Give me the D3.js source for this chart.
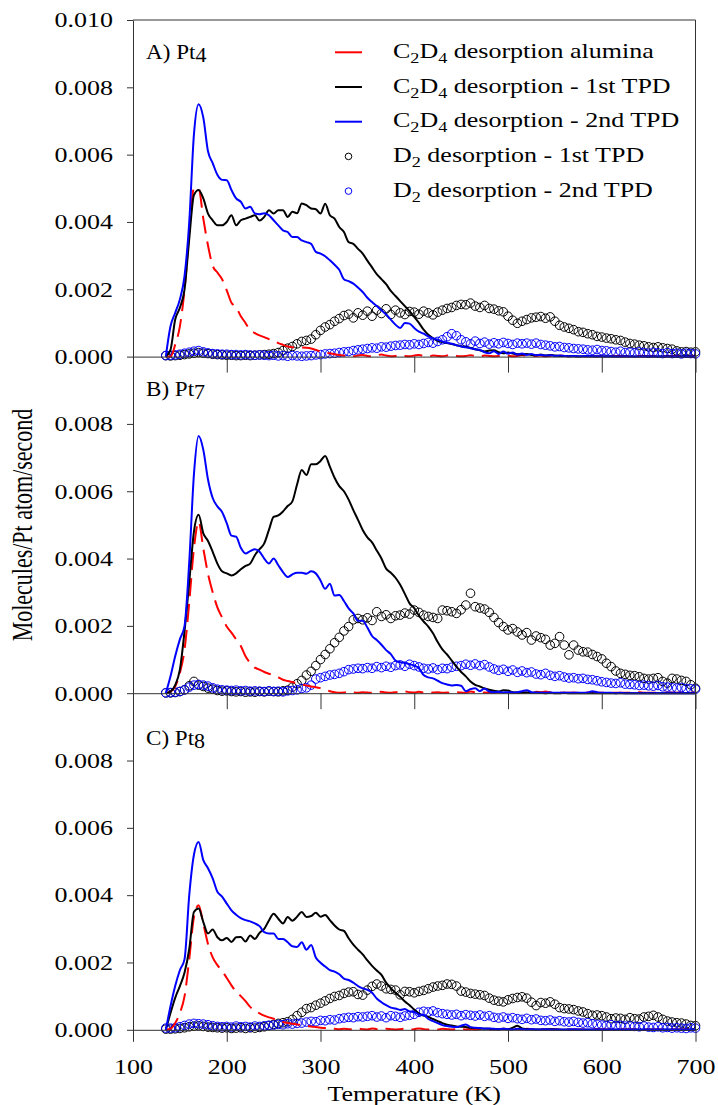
<!DOCTYPE html>
<html>
<head>
<meta charset="utf-8">
<script src="https://cdn.jsdelivr.net/npm/d3@7"></script>
<style>
  body { margin: 0; background: #fff; }
  svg { display: block; font-family: "Liberation Serif", "Times New Roman", serif; }
</style>
</head>
<body>
<svg id="chart" width="718" height="1105"></svg>
<script>
// Temperature grid (K), one reading every 5 K
const temps = [
  135,140,145,150,155,160,165,170,175,180,
  185,190,195,200,205,210,215,220,225,230,
  235,240,245,250,255,260,265,270,275,280,
  285,290,295,300,305,310,315,320,325,330,
  335,340,345,350,355,360,365,370,375,380,
  385,390,395,400,405,410,415,420,425,430,
  435,440,445,450,455,460,465,470,475,480,
  485,490,495,500,505,510,515,520,525,530,
  535,540,545,550,555,560,565,570,575,580,
  585,590,595,600,605,610,615,620,625,630,
  635,640,645,650,655,660,665,670,675,680,
  685,690,695,700
];

// all values below are in units of 1e-4 molecules/Pt atom/second
const UNIT = 1e-4;

// ---- A) Pt4
const pt4Alumina = [
  0,0,3.5,9,20,37,50,50,41,33,
  27,25,23,19.7,16,14.7,12,10,7.8,7,
  6.3,5.8,5.2,4.7,4,3.5,3,2.8,2.6,2.7,
  2.6,2.4,2,1.5,1.2,1,0.7,0.5,0.3,0.2,
  0.1,0.3,0.5,0.2,0.1,0.4,0.6,0.3,0.1,0.2,
  0.4,0.2,0.1,0.3,0.5,0.2,0.1,0.3,0.2,0.1,
  0.3,0.5,0.2,0.1,0.2,0.4,0.2,0.1,0.3,0.2,
  0.1,0.2,0.4,0.3,0.1,0.2,0.5,0.2,0.1,0.2,
  0.3,0.1,0.2,0.1,0.3,0.2,0.1,0.2,0.1,0.1,
  0.2,0.1,0.1,0.2,0.1,0.1,0.2,0.1,0.1,0.1,
  0.1,0.2,0.1,0.1,0.1,0.2,0.1,0.1,0.2,0.1,
  0.1,0.2,0.1,0.1
];
const pt4Tpd1 = [
  0,2,11,14.5,20,35,48,49.5,47,42.5,
  40.5,39,39,40,42,39,40.5,41,41.5,42,
  40.4,41.5,43.5,42.5,43.5,43.5,41.5,43,42.6,45.5,
  45,44,43.8,42.5,45.4,42,41,38.5,37,34,
  33.5,32,30.6,28.5,26.5,24.5,23,21.5,19.5,18,
  16.5,15,13.5,11.8,10,8,6.5,5.5,4.7,4.3,
  4,3.7,3.4,3.1,2.9,2.6,2.2,1.9,1.5,1.8,
  1.9,1.3,1,1.2,0.9,0.7,0.6,0.8,0.5,0.4,
  0.6,0.3,0.5,0.3,0.2,0.2,0.1,0.1,0,0.1,
  0,0.1,0,0,0.1,0,0,0,0.1,0,
  0,0,0.1,0,0,0,0,0.1,0,0,
  0,0,0,0
];
const pt4Tpd2 = [
  0,9,13,17,24,40,66,75,71,61,
  57.5,54,52.5,52.4,49.5,47,46,44,44.5,42.5,
  42.3,42.6,42,40.5,39,37.5,37,35.5,35.5,34.5,
  34,33.5,31.1,30.6,29.8,28.6,27.3,25.8,23,22.4,
  21.7,20.5,19.2,17.5,16.2,15,13.8,12.5,11,9.5,
  8.5,10,9.8,8.5,7.4,6.8,6,5.4,5,4.5,
  4.1,3.8,3.4,3,2.8,2.5,2.2,2,1.3,1,
  1.6,0.8,1.5,0.9,1.2,0.6,0.9,0.5,0.8,0.4,
  0.5,0.3,0.4,0.2,0.3,0.2,0.1,0.2,0.1,0.1,
  0.2,0.1,0.1,0.1,0,0.1,0,0,0.1,0,
  0,0,0,0.1,0,0,0,0,0,0,
  0,0,0,0
];
const pt4D2Tpd1 = [
  0.3,0.2,0.3,0.4,0.6,0.8,1,1.2,1,0.9,
  0.7,0.6,0.5,0.4,0.4,0.3,0.3,0.4,0.3,0.4,
  0.5,0.6,0.7,0.9,1.2,1.8,2.5,3,3.8,4.5,
  4.8,5.2,6.5,7.8,8.8,9.5,10.5,11.3,12.2,12.6,
  11.5,13,12.3,13.5,12,13.8,12.8,14.2,12.5,13.8,
  13,12.5,13.4,13.2,12.6,13.5,13,12.4,13.2,13.8,
  14.3,14.6,15.2,15.5,15.4,15.9,15,14.6,15.2,14.3,
  14.1,13.6,13.3,12,10.8,9.9,10.5,11,11.5,11.7,
  11.9,11.4,11.8,10.5,9.3,8.8,8.4,8,7.4,7.2,
  6.8,6.5,6,5.8,5.5,5.3,5,4.8,4.3,3.9,
  3.7,3.4,3.2,2.9,2.7,2.9,2.6,2.4,2.2,1.7,
  1.4,1.5,1.3,1.4
];
const pt4D2Tpd2 = [
  0.3,0.4,0.5,0.7,1,1.3,1.6,1.8,1.4,1.1,
  0.9,0.8,0.7,0.7,0.6,0.6,0.5,0.6,0.5,0.4,
  0.5,0.4,0.3,0.4,0.2,0.3,0.1,0.3,0.2,0.1,
  0.2,0.3,0.5,0.6,0.8,0.9,1,1.2,1.4,1.5,
  1.8,2,2.2,2.4,2.6,2.5,2.9,2.8,3.1,3.3,
  3.4,3.6,3.5,3.8,3.6,3.9,4.2,4,4.5,5,
  5.9,6.8,6.2,5,4.4,3.8,4.6,3.9,4.3,3.7,
  4.1,3.8,4.2,3.9,3.6,4,3.8,4,3.7,4,
  3.6,3.4,3.2,2.9,3,2.7,2.6,2.4,2.3,2.2,
  2,1.9,2.1,1.8,1.7,1.5,1.3,1.6,1.2,1.3,
  1.1,1.4,1.2,1,1.3,1.1,0.9,1.2,0.9,1,
  0.8,1,0.9,0.8
];

// ---- B) Pt7
const pt7Alumina = [
  0,0.5,2,6,13,27,43,51,43,35.5,
  30,25.5,22.5,19.8,18,16,14,11,9,7.6,
  7,6.3,5.8,5.4,4.7,4,3.6,3.3,3,2.6,
  2.3,2,1.8,1.5,1.1,0.6,0.3,0.1,0.2,0.4,
  0.2,0.1,0.3,0.2,0.1,0.2,0.4,0.2,0.1,0.3,
  0.2,0.5,0.3,0.2,0.4,0.2,0.1,0.2,0.3,0.1,
  0.2,0.1,0.3,0.2,0.1,0.5,0.3,0.1,0.2,0.1,
  0.2,0.3,0.1,0.2,0.1,0.1,0.3,0.2,0.1,0.4,
  0.3,0.5,0.2,0.1,0.2,0.1,0.1,0.2,0.1,0.1,
  0.2,0.1,0.1,0.1,0.2,0.1,0.1,0.1,0.1,0.1,
  0.1,0.3,0.1,0.1,0.1,0.1,0.2,0.1,0.1,0.1,
  0.1,0.1,0.1,0.1
];
const pt7Tpd1 = [
  0,0.5,2.4,7,18.5,33,48,53,47.5,45.2,
  42,38.5,36.2,35.6,35,35.6,36.8,37.8,38.5,41,
  42.8,44.5,48.5,52.4,52.8,54,55.6,57,62,66.3,
  64.8,68,68,69,70.5,67.3,64,61.5,60,57.5,
  54.4,51.5,48.5,46.3,44.8,42.4,40,37,35.8,34.3,
  32.2,29.5,26.7,25.3,23,21.3,19.8,17.8,15.2,13,
  11.5,9.7,7.9,6.3,5,3.5,2.5,2,1.4,1,
  0.7,0.5,0.9,0.8,0.3,0.2,0.1,0.2,0.1,0.1,
  0.1,0,0.1,0,0,0.1,0,0,0,0,
  0,0,0,0,0,0,0,0,0,0,
  0,0,0,0,0,0,0,0,0,0,
  0,0,0,0
];
const pt7Tpd2 = [
  0,5,11,16,20,39,65,76.4,72.3,63.5,
  58,55.5,53.8,50.5,46.8,46.5,43.2,41.5,42.2,42.8,
  42,40,38.5,40,38,36,34.5,35.3,35.8,35.8,
  35.5,36.2,35.6,33.5,31,32.5,29,29.2,27.4,25.2,
  23.7,21.5,21.5,19.5,17,15.8,14.4,12.8,11.6,9.7,
  9.2,9,8.6,8.2,7.4,5.4,4.7,4.4,3.7,3,
  2.6,2.3,2.4,2.2,0.6,1.2,1.5,0.6,1.4,0.5,
  0.3,0.4,0.2,0.3,0.2,0.3,0.6,0.9,0.3,0.2,
  0.1,0.1,0.2,0.1,0.1,0.1,0.1,0.1,0.1,0.1,
  0.2,0.6,0.3,0.1,0.1,0.1,0,0.1,0,0,
  0,0,0,0,0,0,0,0,0,0,
  0,0,0,0
];
const pt7D2Tpd1 = [
  0.1,0.1,0.2,0.5,1,2.2,3.5,2.4,2,1.5,
  1.2,0.8,0.6,0.7,0.5,0.4,0.5,0.3,0.4,0.3,
  0.5,0.4,0.6,0.5,0.4,0.7,0.9,1.8,2.8,3.8,
  5.4,6.5,8.2,10,11.5,13.2,15,16.6,18.5,19.8,
  21.8,22.2,21.8,22.4,21.6,24.2,22.8,23.3,22.2,23,
  23.2,23.8,23.5,24.7,24,23.2,22.8,22.5,22.2,24.7,
  24.5,24.2,23.7,24.8,26.2,29.7,25.7,25.3,25,24,
  22.5,21,19.8,18.8,19.2,18.2,17.3,18,15.8,17,
  16.5,16,14.3,14.8,16.8,14.3,11.4,14.3,12.8,12.3,
  12.2,11.5,10.9,10.2,8.9,7.9,6.6,5.9,5.6,5.3,
  5.2,4.9,4.4,4.2,4.4,4.6,3.5,3,4.4,4.2,
  3.8,3.5,2.5,1.5
];
const pt7D2Tpd2 = [
  0.1,0.2,0.3,0.5,1,1.8,2.4,2.6,2.4,2.1,
  1.6,1.2,1,0.9,0.8,0.9,0.7,0.8,0.6,0.7,
  0.6,0.5,0.7,0.5,0.6,0.4,0.7,0.8,1,1.4,
  1.6,2.4,4.2,4.6,5,5.4,5.6,5.9,6.4,7,
  7.2,7.4,7.3,7.6,7.4,7.9,7.6,8,7.7,8.2,
  8.4,8,8.6,8.2,7.8,7.4,7.2,7.5,7,7.4,
  7.3,7.7,8,8.2,8.6,8.3,8.7,8.2,8.5,7.8,
  7.2,6.8,7.1,6.5,6.9,6.2,6.6,6.1,6.3,5.7,
  5.5,5.9,5.3,5,5.2,4.8,4.5,4.6,4.3,4.4,
  4.1,4,3.7,3.4,3.2,3,2.9,3.1,2.7,2.6,
  2.5,2.3,2.4,2.2,2.1,2.3,1.9,1.8,1.6,1.5,
  1.7,1.4,1.3,1.2
];

// ---- C) Pt8
const pt8Alumina = [
  0,0.3,2,5,10,21,33.5,37,31.5,25.5,
  21.5,19.2,17.5,15.4,13.2,11.3,10,8.5,6.8,5.7,
  4.9,4.2,3.7,3.3,2.8,2.3,2,1.8,1.6,1.4,
  1.1,1,0.8,0.6,0.5,0.4,0.3,0.2,0.3,0.2,
  0.1,0.3,0.2,0.1,0.4,0.2,0.1,0.3,0.2,0.1,
  0.2,0.3,0.1,0.2,0.4,0.2,0.1,0.2,0.1,0.3,
  0.2,0.1,0.2,0.3,0.1,0.2,0.1,0.2,0.3,0.1,
  0.2,0.1,0.3,0.2,0.1,0.2,0.1,0.3,0.2,0.1,
  0.2,0.1,0.1,0.2,0.1,0.1,0.1,0.1,0.1,0.1,
  0.1,0.1,0.1,0.1,0.1,0.1,0.1,0.1,0.1,0.1,
  0.1,0.1,0.1,0.1,0.1,0.1,0.1,0.1,0.1,0.1,
  0.1,0.1,0.1,0.1
];
const pt8Tpd1 = [
  0,5,9.5,13,17,24,35,36,32,28.6,
  29.8,27.5,26.6,27.3,26.1,27.5,27.6,26.2,28,27,
  28.8,30,32.5,34.5,33,31.6,33.5,32.4,33.6,35,
  33.5,33.8,34.8,33.6,34.1,32.6,31,29.8,29.4,27.2,
  25.3,23.8,22.4,20.6,19,17.6,16.3,14,12.4,11,
  9.8,8.4,7.3,6,4.8,4.2,3.8,3.2,2.6,2,
  1.5,1.3,1,0.9,0.8,0.6,0.5,0.4,0.3,0.3,
  0.2,0.2,0.3,0.2,0.6,1.2,0.4,0.2,0.1,0.1,
  0.1,0.1,0.2,0.1,0.1,0,0.1,0,0,0,
  0,0,0,0,0,0,0,0,0,0,
  0,0,0,0,0,0,0,0,0,0,
  0,0,0,0
];
const pt8Tpd2 = [
  0,7,13,17.7,21,40,52,55.8,50.4,48,
  45,41,39.6,37.5,35.5,34.2,33.2,32.6,32.2,31.6,
  30.8,29,28.6,28.6,27,27,26,24.8,24.6,26,
  23.8,25.2,21.5,19.9,18.8,17.7,17.3,16.5,15.2,14.8,
  14,13,12.3,11.9,11,9.3,8.2,7.3,6.6,6.3,
  5.9,6.2,5.4,5.3,4.5,4.4,3.2,2.6,2,1.4,
  1.1,0.9,0.8,1.2,1.6,0.8,0.6,0.5,0.4,0.4,
  0.3,0.2,0.3,0.2,0.1,0.3,0.2,0.1,0.2,0.1,
  0.1,0.2,0.1,0.1,0.1,0.1,0.1,0.2,0.1,0.1,
  0.1,0.1,0.1,0.1,0.1,0.1,0.1,0.1,0.1,0.1,
  0.1,0.1,0.1,0.1,0.1,0.1,0.1,0.1,0.1,0.1,
  0.1,0.1,0.1,0.1
];
const pt8D2Tpd1 = [
  0.2,0.2,0.3,0.4,0.6,0.9,1.1,1.2,1,0.8,
  0.7,0.6,0.5,0.6,0.4,0.5,0.6,0.4,0.6,0.5,
  0.7,0.9,1.3,1.6,1.9,2.1,2.4,3.1,4.2,5.2,
  6.3,6.6,7.3,7.9,8.6,9.3,9.9,10.2,10.8,11.2,
  11.3,10.5,10.3,11.8,12.9,13.6,13,12.2,12,11.8,
  10.4,11.4,11.3,11,11.4,11.7,12.2,12.7,13,13.2,
  13.6,13.5,13,11.5,11.2,10.8,10.6,10.4,10.2,9.4,
  8.8,8.5,8.3,8.9,9.3,9.6,9.8,9.4,8.2,7.2,
  8.1,7.9,8.3,7.6,6.6,6.3,6.2,6,5.6,5.3,
  4.8,4.3,4.4,4.2,3.8,3.3,3.5,3.4,3.1,3.6,
  3.3,3.2,3.8,4,4.3,3.8,3.1,2.6,2.3,2.1,
  2,1.7,1.3,1.2
];
const pt8D2Tpd2 = [
  0.5,0.5,0.6,0.9,1.3,1.7,1.9,1.8,1.7,1.5,
  1.2,1,0.9,1,0.8,1.1,0.9,1,0.8,1.1,
  1,1.2,1.3,1.4,1.6,1.5,1.8,1.7,1.9,2,
  2.3,2.5,2.4,2.8,2.7,3,2.9,3.3,3.5,3.7,
  3.6,3.9,3.8,4,4.2,3.8,4.1,3.6,4.2,4,
  3.7,4.1,4.3,4.6,5.2,5.5,5.3,5.6,5.1,4.8,
  4.6,4.4,4.6,4.2,4.5,4.3,4.1,4.4,4,4.2,
  3.7,3.5,3.8,3.4,3.6,3.3,3.1,3.4,3,3.2,
  2.8,2.7,2.9,2.5,2.7,2.4,2.3,2.5,2.2,2,
  2.1,1.8,1.6,1.4,1.3,1.5,1.2,1.3,1.1,1.2,
  1,0.9,1.1,0.8,0.7,0.9,0.6,0.7,0.5,0.6,
  0.5,0.4,0.6,0.5
];

const panelLabels = ['A) Pt', 'B) Pt', 'C) Pt'];
const panelSubs = ['4', '7', '8'];
const xTicks = [100, 200, 300, 400, 500, 600, 700];
const yTicksTop = [0, 0.002, 0.004, 0.006, 0.008, 0.010];
const yTicksLower = [0, 0.002, 0.004, 0.006, 0.008];

// legend text pieces: [text, isSubscript]
const legendLabels = [
  [['C', 0], ['2', 1], ['D', 0], ['4', 1], [' desorption alumina', 0]],
  [['C', 0], ['2', 1], ['D', 0], ['4', 1], [' desorption - 1st TPD', 0]],
  [['C', 0], ['2', 1], ['D', 0], ['4', 1], [' desorption - 2nd TPD', 0]],
  [['D', 0], ['2', 1], [' desorption - 1st TPD', 0]],
  [['D', 0], ['2', 1], [' desorption - 2nd TPD', 0]]
];

const panels = [
  { label: panelLabels[0], sub: panelSubs[0], ticks: yTicksTop, labelDy: 39,
    lines: [pt4Alumina, pt4Tpd1, pt4Tpd2], dots: [pt4D2Tpd1, pt4D2Tpd2] },
  { label: panelLabels[1], sub: panelSubs[1], ticks: yTicksLower, labelDy: 39,
    lines: [pt7Alumina, pt7Tpd1, pt7Tpd2], dots: [pt7D2Tpd1, pt7D2Tpd2] },
  { label: panelLabels[2], sub: panelSubs[2], ticks: yTicksLower, labelDy: 52,
    lines: [pt8Alumina, pt8Tpd1, pt8Tpd2], dots: [pt8D2Tpd1, pt8D2Tpd2] }
];

const lineColors = ['#ff0000', '#000000', '#0000ff'];
const dotColors = ['#000000', '#0000ff'];

const SX = 1.3;          // the figure's text is stretched horizontally
const left = 133, right = 695.5;
const top0 = 20, panelH = 336.6;
const axisColor = '#333';

const svg = d3.select('#chart');

const x = d3.scaleLinear().domain([100, 700]).range([left, right]);

panels.forEach((p, i) => {
  const top = top0 + i * panelH;
  const bottom = top + panelH;
  const y = d3.scaleLinear().domain([0, 0.010]).range([bottom, top]);
  const g = svg.append('g');

  // D2 markers first, lines on top
  p.dots.forEach((vals, k) => {
    g.append('g')
      .selectAll('circle')
      .data(vals.map((v, j) => [temps[j], v * UNIT]))
      .enter()
      .append('circle')
      .attr('cx', d => x(d[0]))
      .attr('cy', d => y(d[1]))
      .attr('r', 4.3)
      .attr('fill', 'none')
      .attr('stroke', dotColors[k])
      .attr('stroke-width', 1);
  });

  const line = d3.line()
    .x(d => x(d[0]))
    .y(d => y(d[1]))
    .curve(d3.curveMonotoneX);

  p.lines.forEach((vals, k) => {
    g.append('path')
      .datum(vals.map((v, j) => [temps[j], v * UNIT]))
      .attr('d', line)
      .attr('fill', 'none')
      .attr('stroke', lineColors[k])
      .attr('stroke-width', 2)
      .attr('stroke-dasharray', k === 0 ? '18,8' : null);
  });

  // y axis
  const yAxis = g.append('g')
    .attr('transform', `translate(${left},0)`)
    .call(d3.axisLeft(y).tickValues(p.ticks).tickSize(6).tickSizeOuter(0)
      .tickFormat(d3.format('.3f')));
  yAxis.select('.domain').attr('stroke', axisColor);
  yAxis.selectAll('.tick line').attr('stroke', axisColor);
  yAxis.selectAll('text')
    .attr('x', null)
    .attr('dy', '0.34em')
    .attr('transform', `translate(-20,0) scale(${SX},1)`)
    .attr('fill', '#000')
    .style('font-size', '20px')
    .style('font-family', '"Liberation Serif", serif');

  // x axis at the bottom of every panel, labels only on the last one
  const last = i === panels.length - 1;
  const xAxis = g.append('g')
    .attr('transform', `translate(0,${bottom})`)
    .call(d3.axisBottom(x).tickValues(xTicks).tickSize(last ? 12 : 16).tickSizeOuter(0)
      .tickFormat(last ? d3.format('d') : ''));
  xAxis.select('.domain').attr('stroke', axisColor);
  xAxis.selectAll('.tick line').attr('stroke', axisColor);
  xAxis.selectAll('text')
    .attr('y', null)
    .attr('dy', null)
    .attr('transform', `translate(0,44) scale(${SX},1)`)
    .attr('fill', '#000')
    .style('font-size', '20px')
    .style('font-family', '"Liberation Serif", serif');

  // panel label
  const lab = g.append('text')
    .attr('transform', `translate(146,${top + p.labelDy}) scale(1.1,1)`)
    .style('font-size', '21px');
  lab.append('tspan').text(p.label);
  lab.append('tspan').attr('dy', 3).style('font-size', '20px').text(p.sub);
});

// frame: top and right
svg.append('line')
  .attr('x1', left).attr('x2', right).attr('y1', top0).attr('y2', top0)
  .attr('stroke', axisColor);
svg.append('line')
  .attr('x1', right).attr('x2', right).attr('y1', top0).attr('y2', top0 + 3 * panelH)
  .attr('stroke', axisColor);

// legend (in panel A)
const legend = svg.append('g');
legendLabels.forEach((parts, k) => {
  const ly = 52.3 + k * 34.7;
  if (k < 3) {
    legend.append('line')
      .attr('x1', 335).attr('x2', 362).attr('y1', ly).attr('y2', ly)
      .attr('stroke', lineColors[k]).attr('stroke-width', 2);
  } else {
    legend.append('circle')
      .attr('cx', 348.5).attr('cy', ly).attr('r', 3.3)
      .attr('fill', 'none').attr('stroke', dotColors[k - 3]).attr('stroke-width', 1);
  }
  const t = legend.append('text')
    .attr('transform', `translate(393,${ly + 5.5}) scale(${SX},1)`)
    .style('font-size', '20px');
  let shifted = false;
  parts.forEach(([txt, sub]) => {
    const ts = t.append('tspan').text(txt);
    if (sub && !shifted) { ts.attr('dy', 5).style('font-size', '14px'); shifted = true; }
    else if (sub) { ts.style('font-size', '14px'); }
    else if (shifted) { ts.attr('dy', -5); shifted = false; }
  });
});

// axis titles
svg.append('text')
  .attr('transform', `translate(${(left + right) / 2},1101) scale(${SX},1)`)
  .attr('text-anchor', 'middle')
  .style('font-size', '20px')
  .text('Temperature (K)');

svg.append('text')
  .attr('transform', 'translate(32,525) rotate(-90) scale(1,1.3)')
  .attr('text-anchor', 'middle')
  .style('font-size', '22px')
  .text('Molecules/Pt atom/second');
</script>
</body>
</html>
